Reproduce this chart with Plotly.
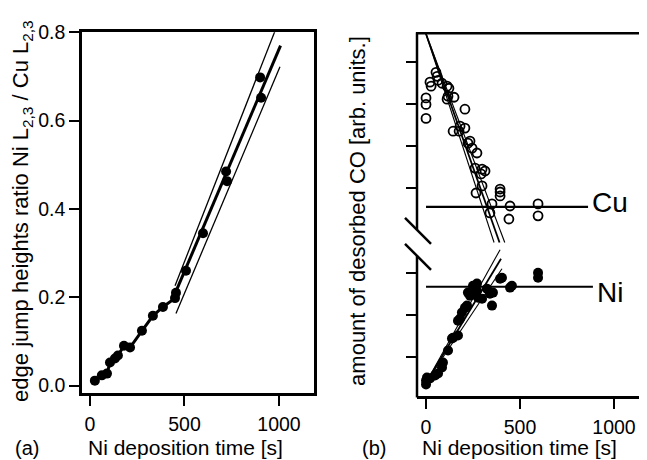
import plotly.graph_objects as go

W, H = 647, 460
# Empirical page-to-figure correction (body margin and capture scaling)
X_OFF = 8.0
Y_OFF, Y_SCALE = 17.6, 0.972


def px(x):
    return (x - X_OFF) / W


def py(y):
    return 1 - ((y - Y_OFF) / Y_SCALE) / H


# ---------------- Panel (a) data ----------------
a_time_low = [26, 63, 90, 106, 132, 148, 180, 212, 275, 333, 386, 450, 455]
a_ratio_low = [0.011, 0.023, 0.027, 0.052, 0.061, 0.068, 0.090, 0.086, 0.124, 0.158, 0.178, 0.198, 0.210]
a_time_high = [508, 598, 720, 725, 900, 905]
a_ratio_high = [0.260, 0.345, 0.485, 0.463, 0.698, 0.652]
a_fit_time = [450, 1008]
a_fit_ratio = [0.208, 0.770]
a_band_up_time = [450, 985]
a_band_up_ratio = [0.226, 0.810]
a_band_lo_time = [455, 1005]
a_band_lo_ratio = [0.163, 0.722]

# ---------------- Panel (b) data ----------------
cu_time = [0, 0, 0, 21, 27, 53, 59, 64, 85, 112, 122, 117, 149, 112, 207, 144, 176, 207,
           234, 245, 271, 223, 261, 298, 293, 314, 266, 298, 394, 394, 394, 351, 340,
           447, 441, 596, 596, 181]
cu_co = [0.630, 0.599, 0.532, 0.705, 0.686, 0.752, 0.733, 0.714, 0.700, 0.686, 0.676, 0.638,
         0.633, 0.624, 0.576, 0.471, 0.471, 0.486, 0.424, 0.390, 0.367, 0.414, 0.295, 0.290,
         0.267, 0.281, 0.176, 0.210, 0.195, 0.181, 0.162, 0.124, 0.081, 0.114, 0.052, 0.124,
         0.067, 0.495]
cu_fit_time = [[0, 362], [0, 391], [0, 419]]
cu_fit_co = [[0.935, -0.06], [0.935, -0.06], [0.935, -0.06]]
cu_level_time = [0, 862]
cu_level_co = [0.110, 0.110]

ni_time = [0, 0, 5, 21, 48, 64, 85, 90, 117, 138, 144, 170, 170, 181, 191, 207, 218, 223,
           234, 250, 271, 271, 277, 298, 324, 340, 351, 356, 394, 404, 447, 457, 596, 596]
ni_co = [0.086, 0.067, 0.100, 0.095, 0.110, 0.119, 0.148, 0.171, 0.229, 0.286, 0.290, 0.300,
         0.371, 0.381, 0.410, 0.433, 0.443, 0.505, 0.490, 0.538, 0.548, 0.514, 0.481, 0.476,
         0.524, 0.500, 0.443, 0.505, 0.571, 0.576, 0.529, 0.538, 0.600, 0.576]
ni_fit_time = [[0, 394], [0, 399], [0, 404]]
ni_fit_co = [[0.075, 0.710], [0.075, 0.667], [0.075, 0.619]]
ni_level_time = [0, 888]
ni_level_co = [0.533, 0.533]

x_ticks = [0, 500, 1000]
a_y_ticks = [0.0, 0.2, 0.4, 0.6, 0.8]
cu_y_ticks = [0.2, 0.4, 0.6, 0.8]
ni_y_ticks = [0.2, 0.4, 0.6]

BLACK = "black"
fig = go.Figure()

# Panel (a)
fig.add_trace(go.Scatter(x=a_band_up_time, y=a_band_up_ratio, mode="lines",
                         line=dict(color=BLACK, width=1.3), xaxis="x", yaxis="y"))
fig.add_trace(go.Scatter(x=a_band_lo_time, y=a_band_lo_ratio, mode="lines",
                         line=dict(color=BLACK, width=1.3), xaxis="x", yaxis="y"))
fig.add_trace(go.Scatter(x=a_fit_time, y=a_fit_ratio, mode="lines",
                         line=dict(color=BLACK, width=3), xaxis="x", yaxis="y"))
fig.add_trace(go.Scatter(x=a_time_low, y=a_ratio_low, mode="lines+markers",
                         line=dict(color=BLACK, width=3),
                         marker=dict(symbol="circle", size=10, color=BLACK),
                         xaxis="x", yaxis="y"))
fig.add_trace(go.Scatter(x=a_time_high, y=a_ratio_high, mode="markers",
                         marker=dict(symbol="circle", size=10, color=BLACK),
                         xaxis="x", yaxis="y"))

# Panel (b) Cu (upper)
for i, (t, c) in enumerate(zip(cu_fit_time, cu_fit_co)):
    fig.add_trace(go.Scatter(x=t, y=c, mode="lines",
                             line=dict(color=BLACK, width=1.8 if i == 1 else 1.1),
                             xaxis="x2", yaxis="y2"))
fig.add_trace(go.Scatter(x=cu_level_time, y=cu_level_co, mode="lines",
                         line=dict(color=BLACK, width=2.2), xaxis="x2", yaxis="y2"))
fig.add_trace(go.Scatter(x=cu_time, y=cu_co, mode="markers",
                         marker=dict(symbol="circle-open", size=9, color=BLACK,
                                     line=dict(width=1.8, color=BLACK)),
                         xaxis="x2", yaxis="y2"))

# Panel (b) Ni (lower)
for i, (t, c) in enumerate(zip(ni_fit_time, ni_fit_co)):
    fig.add_trace(go.Scatter(x=t, y=c, mode="lines",
                             line=dict(color=BLACK, width=1.8 if i == 1 else 1.1),
                             xaxis="x2", yaxis="y3"))
fig.add_trace(go.Scatter(x=ni_level_time, y=ni_level_co, mode="lines",
                         line=dict(color=BLACK, width=2.2), xaxis="x2", yaxis="y3"))
fig.add_trace(go.Scatter(x=ni_time, y=ni_co, mode="markers",
                         marker=dict(symbol="circle", size=10, color=BLACK),
                         xaxis="x2", yaxis="y3"))

FONT = "Liberation Sans, Arial, sans-serif"
tickfont = dict(family=FONT, size=19.5, color=BLACK)
common_axis = dict(showgrid=False, zeroline=False, ticks="outside", ticklen=10,
                   tickwidth=2, tickcolor=BLACK, linecolor=BLACK, linewidth=2.5,
                   tickfont=tickfont)

fig.update_layout(
    width=W, height=H,
    margin=dict(l=0, r=0, t=0, b=0),
    paper_bgcolor="white", plot_bgcolor="white",
    showlegend=False,
    font=dict(family=FONT, color=BLACK),
    xaxis=dict(domain=[px(82), px(314)], range=[-42, 1185], tickvals=x_ticks,
               ticklabelstandoff=1,
               showline=True, mirror=True, anchor="y", **common_axis),
    yaxis=dict(domain=[py(393), py(31)], range=[-0.018, 0.8], tickvals=a_y_ticks,
               tickformat=".1f", showline=True, mirror=True, anchor="x", **common_axis),
    xaxis2=dict(domain=[px(417), px(645)], range=[-48, 1165], tickvals=x_ticks,
                ticklabelstandoff=1,
                showline=True, mirror=False, anchor="y3", **common_axis),
    yaxis2=dict(domain=[py(245), py(32)], range=[-0.076, 0.938], tickvals=cu_y_ticks,
                showticklabels=False, showline=False, anchor="x2", **common_axis),
    yaxis3=dict(domain=[py(396), py(248)], range=[0.0095, 0.714], tickvals=ni_y_ticks,
                showticklabels=False, showline=False, anchor="x2", **common_axis),
)


def seg(x0, y0, x1, y1, width=2.5, color=BLACK):
    return dict(type="line", xref="paper", yref="paper",
                x0=px(x0), y0=py(y0), x1=px(x1), y1=py(y1),
                line=dict(color=color, width=width))


fig.update_layout(shapes=[
    seg(417, 31, 417, 229),          # upper left axis line (b)
    seg(417, 255, 417, 397),         # lower left axis line (b)
    seg(416, 32, 647, 32),           # top frame (b)
    seg(643, 32, 643, 396, width=1, color="#666"),  # right edge (b)
    seg(405, 217, 431, 243),         # axis break mark
    seg(405, 243, 431, 269),         # axis break mark
])


def ann(text, x, y, size=22, angle=0, xanchor="center"):
    return dict(text=text, x=px(x), y=py(y), xref="paper", yref="paper",
                showarrow=False, textangle=angle, xanchor=xanchor, yanchor="middle",
                font=dict(family=FONT, size=size, color=BLACK))


fig.update_layout(annotations=[
    ann("edge jump heights ratio Ni L<sub>2,3</sub> / Cu L<sub>2,3</sub>", 22, 210, angle=-90),
    ann("Ni deposition time [s]", 185, 447.5, size=21),
    ann("(a)", 27, 447.5, size=20),
    ann("amount of desorbed CO [arb. units.]", 358, 210, angle=-90),
    ann("Ni deposition time [s]", 519, 447.5, size=21),
    ann("(b)", 374, 447.5, size=20),
    ann("Cu", 590, 202, size=28, xanchor="left"),
    ann("Ni", 595, 292, size=28, xanchor="left"),
])

fig.write_html("out.html")
